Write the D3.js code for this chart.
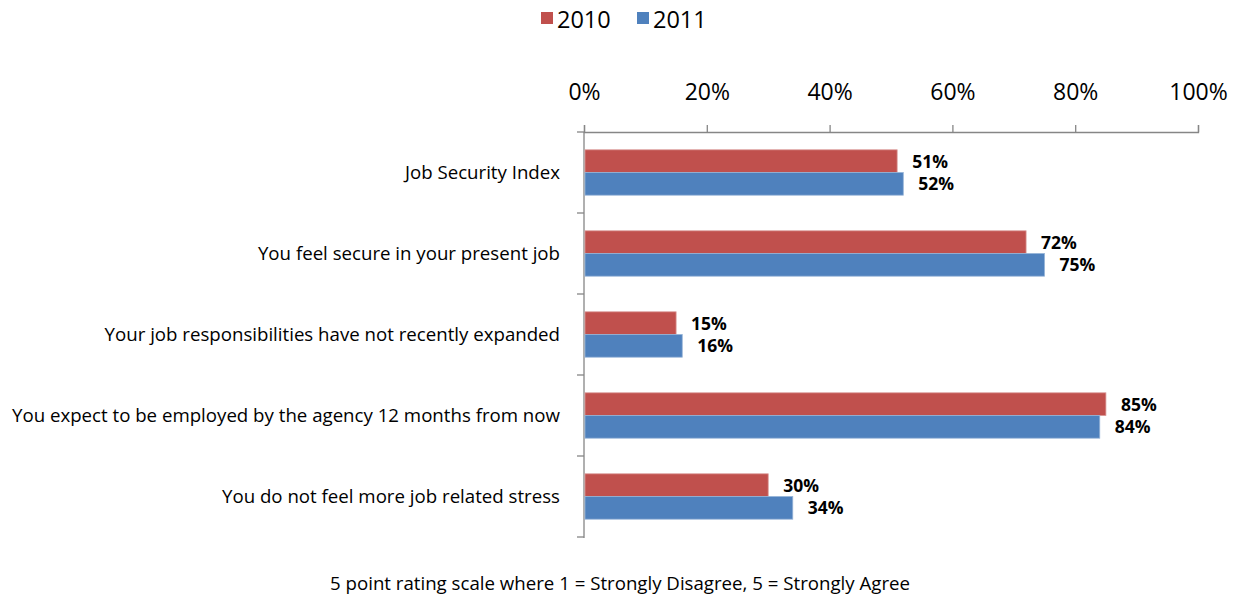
<!DOCTYPE html>
<html>
<head>
<meta charset="utf-8">
<script src="https://cdn.jsdelivr.net/npm/d3@7"></script>
<style>
  html, body { margin: 0; padding: 0; background: #fff; }
  svg { display: block; }
  text { font-family: "Open Sans", "Liberation Sans", sans-serif; fill: #000; }
</style>
</head>
<body>
<svg id="chart" width="1236" height="595"></svg>
<script>
// Job security survey items, agreement share by year
const categories = [
  "Job Security Index",
  "You feel secure in your present job",
  "Your job responsibilities have not recently expanded",
  "You expect to be employed by the agency 12 months from now",
  "You do not feel more job related stress"
];
const years = ["2010", "2011"];
const values2010 = [51, 72, 15, 85, 30];
const values2011 = [52, 75, 16, 84, 34];
const xTicks = [0, 20, 40, 60, 80, 100];
const footnote = "5 point rating scale where 1 = Strongly Disagree, 5 = Strongly Agree";

const colors = { "2010": "#C0504D", "2011": "#4F81BD" };
const strokes = { "2010": "#D99694", "2011": "#95B3D7" };

const svg = d3.select("#chart");
const margin = { left: 584, right: 38, top: 132, bottom: 58 };
const W = 1236, H = 595;

const x = d3.scaleLinear().domain([0, 100]).range([margin.left, W - margin.right]);
const y = d3.scaleBand().domain(categories).range([margin.top, H - margin.bottom]).paddingInner(0.44).paddingOuter(0.22);
const ySeries = d3.scaleBand().domain(years).range([0, y.bandwidth()]);
const outer = d3.scaleBand().domain(categories).range([margin.top, H - margin.bottom]);

const rows = categories.map((c, i) => ({ cat: c, v: { "2010": values2010[i], "2011": values2011[i] } }));

// scale a text selection so its widest member spans the given width
function fitWidth(sel, baseSize, target) {
  const widest = d3.max(sel.nodes(), n => n.getComputedTextLength());
  sel.style("font-size", (baseSize * target / widest).toFixed(2) + "px");
}

// top value axis
const xAxis = svg.append("g").attr("transform", `translate(0,${margin.top})`)
  .call(d3.axisTop(x).tickValues(xTicks).tickFormat(d => d + "%").tickSize(7).tickPadding(25));
xAxis.select(".domain").attr("stroke", "#868686").attr("stroke-width", 1.3);
xAxis.selectAll(".tick line").attr("stroke", "#868686").attr("stroke-width", 1.3);
xAxis.selectAll(".tick text").style("font-size", "23px").attr("fill", "#000");

// left category axis with boundary ticks
const yg = svg.append("g");
yg.append("line").attr("x1", x(0)).attr("x2", x(0))
  .attr("y1", margin.top).attr("y2", H - margin.bottom + 1)
  .attr("stroke", "#868686").attr("stroke-width", 1.3);
const bounds = categories.map(c => outer(c)).concat([outer(categories[categories.length - 1]) + outer.bandwidth()]);
yg.selectAll("line.bt").data(bounds).enter().append("line")
  .attr("x1", x(0) - 7).attr("x2", x(0))
  .attr("y1", d => d).attr("y2", d => d)
  .attr("stroke", "#868686").attr("stroke-width", 1.3);

// category labels, right aligned next to the axis
const catLabels = svg.append("g").selectAll("text").data(categories).enter().append("text")
  .attr("x", x(0) - 24)
  .attr("y", c => outer(c) + outer.bandwidth() / 2)
  .attr("dy", "0.35em")
  .attr("text-anchor", "end")
  .style("font-size", "17px")
  .text(c => c);
fitWidth(catLabels, 17, 548);

// bars
const groups = svg.append("g").selectAll("g").data(rows).enter().append("g")
  .attr("transform", d => `translate(0,${y(d.cat)})`);
groups.selectAll("rect").data(d => years.map(yr => ({ yr, val: d.v[yr] }))).enter().append("rect")
  .attr("x", x(0) + 1)
  .attr("y", d => ySeries(d.yr))
  .attr("width", d => x(d.val) - x(0) - 1)
  .attr("height", ySeries.bandwidth())
  .attr("fill", d => colors[d.yr])
  .attr("stroke", d => strokes[d.yr])
  .attr("stroke-width", 0.8);

// value labels
groups.selectAll("text").data(d => years.map(yr => ({ yr, val: d.v[yr] }))).enter().append("text")
  .attr("x", d => x(d.val) + 15)
  .attr("y", d => ySeries(d.yr) + ySeries.bandwidth() / 2)
  .attr("dy", "0.38em")
  .style("font-size", "17.5px")
  .style("font-weight", "bold")
  .text(d => d.val + "%");

// legend
const legend = svg.append("g").attr("transform", "translate(541,0)");
const lg = legend.selectAll("g").data(years).enter().append("g")
  .attr("transform", (d, i) => `translate(${i * 96},0)`);
lg.append("rect").attr("x", 0).attr("y", 12).attr("width", 12).attr("height", 12)
  .attr("fill", d => colors[d]);
lg.append("text").attr("x", 16).attr("y", 28).style("font-size", "23.5px").text(d => d);

// footnote
const foot = svg.append("text").attr("x", 620).attr("y", 590).attr("text-anchor", "middle")
  .style("font-size", "16.5px").text(footnote);
fitWidth(foot, 16.5, 580);
</script>
</body>
</html>
